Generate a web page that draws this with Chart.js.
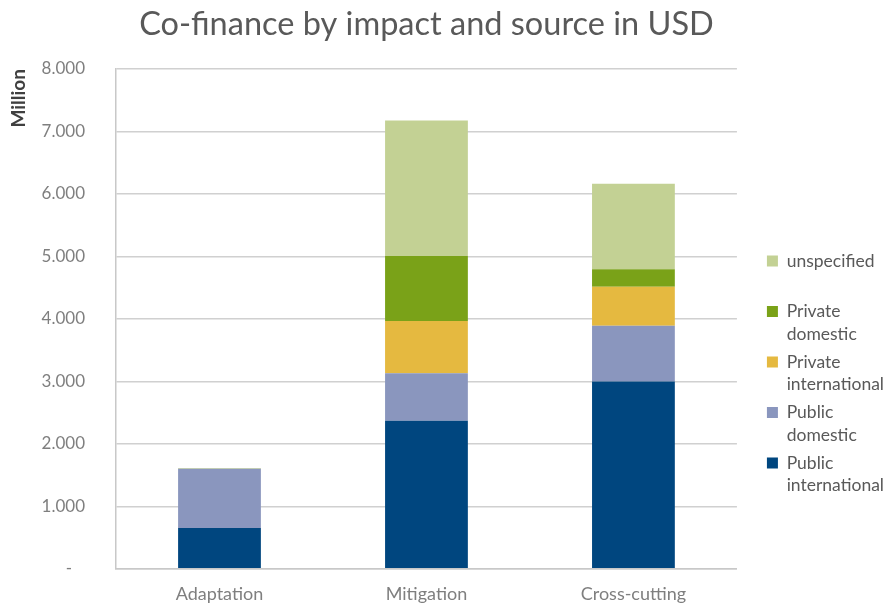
<!DOCTYPE html>
<html>
<head>
<meta charset="utf-8">
<script src="https://cdn.jsdelivr.net/npm/chart.js@4"></script>
<style>
  html, body { margin: 0; padding: 0; background: #fff; }
  #wrap { width: 892px; height: 610px; }
</style>
</head>
<body>
<div id="wrap"><canvas id="cofinance"></canvas></div>
<script>
var categories = ['Adaptation', 'Mitigation', 'Cross-cutting'];
var publicInternational = [655, 2370, 3000];
var publicDomestic = [945, 760, 890];
var privateInternational = [0, 835, 625];
var privateDomestic = [0, 1040, 280];
var unspecified = [15, 2170, 1370];
var yTicks = [0, 1000, 2000, 3000, 4000, 5000, 6000, 7000, 8000];

// legend text split over two lines like the original
var legendLines = {
  'Public international': ['Public', 'international'],
  'Public domestic': ['Public', 'domestic'],
  'Private international': ['Private', 'international'],
  'Private domestic': ['Private', 'domestic'],
  'unspecified': ['unspecified', '']
};

var font = 'Lato, "Open Sans", sans-serif';

var ctx = document.getElementById('cofinance').getContext('2d');
var myChart = new Chart(ctx, {
  type: 'bar',
  data: {
    labels: categories,
    datasets: [
      { label: 'Public international', data: publicInternational, backgroundColor: 'rgb(0, 70, 127)' },
      { label: 'Public domestic', data: publicDomestic, backgroundColor: 'rgb(138, 150, 190)' },
      { label: 'Private international', data: privateInternational, backgroundColor: 'rgb(229, 185, 64)' },
      { label: 'Private domestic', data: privateDomestic, backgroundColor: 'rgb(122, 162, 24)' },
      { label: 'unspecified', data: unspecified, backgroundColor: 'rgb(195, 209, 148)' }
    ]
  },
  options: {
    responsive: true,
    maintainAspectRatio: false,
    animation: false,
    layout: { padding: { left: 7, right: -2, top: 0, bottom: -2 } },
    datasets: {
      bar: { categoryPercentage: 1, barPercentage: 0.4, borderWidth: 0 }
    },
    scales: {
      x: {
        stacked: true,
        grid: { display: false, drawTicks: false },
        border: { display: true, color: '#c8c8c8', width: 1.5 },
        ticks: { color: '#7f7f7f', padding: 15, font: { family: font, size: 18 } },
        afterFit: function(scale) { scale.height = 39; }
      },
      y: {
        stacked: true,
        min: 0,
        max: 8000,
        afterBuildTicks: function(axis) {
          axis.ticks = yTicks.map(function(v) { return { value: v }; });
        },
        grid: { color: '#d0d0d0', lineWidth: 1.5, drawTicks: false },
        border: { display: true, color: '#c8c8c8', width: 1.5 },
        ticks: {
          color: '#7f7f7f',
          padding: 31,
          font: { family: font, size: 17 },
          callback: function(v) {
            if (v === 0) return '-   ';
            return v.toString().replace(/\B(?=(\d{3})+(?!\d))/g, '.');
          }
        },
        title: {
          display: true,
          text: 'Million',
          align: 'end',
          color: '#404040',
          padding: { top: 0, bottom: 0 },
          font: { family: font, size: 19, weight: 'bold' }
        },
        afterFit: function(scale) { scale.width = 109; }
      },
      // empty axis on the right, only keeps a gap between plot and legend
      gap: {
        type: 'linear',
        position: 'right',
        display: true,
        grid: { display: false, drawTicks: false },
        border: { display: false },
        ticks: { display: false },
        afterFit: function(scale) { scale.width = 25; }
      }
    },
    plugins: {
      title: {
        display: true,
        text: 'Co-finance by impact and source in USD',
        fullSize: false,
        color: '#595959',
        padding: { top: 5, bottom: 25 },
        font: { family: font, size: 32.5, weight: 'normal' }
      },
      legend: {
        position: 'right',
        fullSize: false,
        reverse: true,
        title: { display: true, text: ' ', padding: { top: 102, bottom: 0 }, font: { size: 10 } },
        labels: {
          color: '#595959',
          boxWidth: 11,
          boxHeight: 11,
          padding: 5,
          font: { family: font, size: 17.5, lineHeight: 1.3 },
          generateLabels: function(chart) {
            var items = Chart.defaults.plugins.legend.labels.generateLabels(chart);
            items.forEach(function(item) {
              item.text = legendLines[item.text] || item.text;
              item.lineWidth = 0;
            });
            return items;
          }
        }
      },
      tooltip: { enabled: false }
    }
  }
});
</script>
</body>
</html>
